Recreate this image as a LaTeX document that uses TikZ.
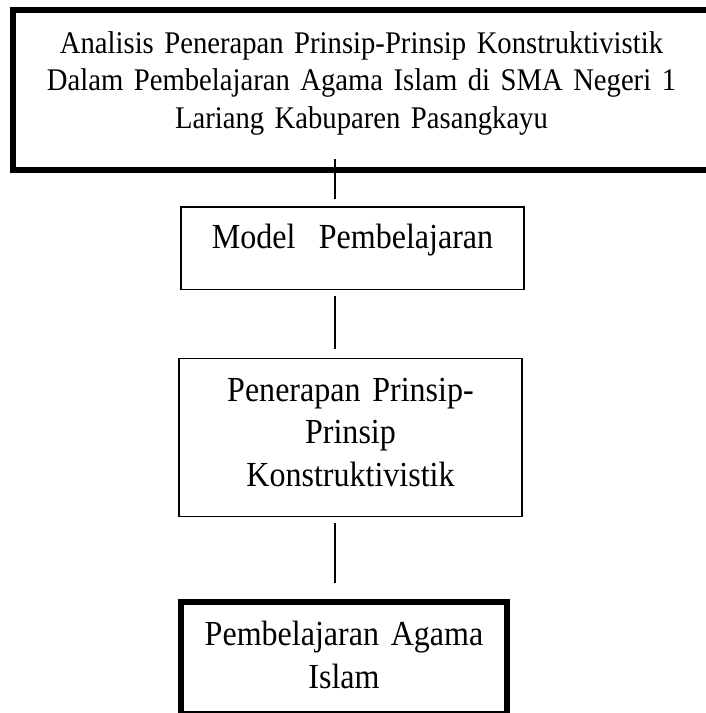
\documentclass[tikz,border=0pt]{standalone}
\usepackage{fontspec}
\setmainfont{Liberation Serif}[FakeStretch=0.91]
\begin{document}
\begin{tikzpicture}[x=1pt,y=-1pt,
  boxbase/.style={draw, rectangle, inner sep=0pt, outer sep=0pt, align=center, anchor=north west},
  thickbox/.style={boxbase, line width=6pt},
  thinbox/.style={boxbase, line width=1.1pt},
  conn/.style={line width=1.6pt}]
\useasboundingbox (0,0) rectangle (706,713);

\node[thickbox, text width=697pt, text height=43pt, text depth=117pt,
      font=\fontsize{31.5}{37.5}\selectfont] (top) at (13,10)
  {Analisis Penerapan Prinsip-Prinsip Konstruktivistik\\
   Dalam Pembelajaran Agama Islam di SMA Negeri 1\\
   Lariang Kabuparen Pasangkayu};

\node[thinbox, text width=343pt, text height=41pt, text depth=41.3pt,
      font=\fontsize{35.2}{42.5}\selectfont] (model) at (181,207)
  {Model\ \ Pembelajaran};

\node[thinbox, text width=343pt, text height=43pt, text depth=115.4pt,
      font=\fontsize{35.2}{42.5}\selectfont] (prinsip) at (179,358.3)
  {Penerapan Prinsip-\\ Prinsip\\ Konstruktivistik};

\node[thickbox, text width=326pt, text height=43pt, text depth=69pt,
      font=\fontsize{35.2}{43}\selectfont] (pai) at (181,602)
  {Pembelajaran Agama\\ Islam};

\coordinate (c1a) at (335,159);
\coordinate (c1b) at (335,199);
\coordinate (c2a) at (335,296);
\coordinate (c2b) at (335,349);
\coordinate (c3a) at (335,523);
\coordinate (c3b) at (335,583);

\draw[conn] (c1a) -- (c1b);
\draw[conn] (c2a) -- (c2b);
\draw[conn] (c3a) -- (c3b);
\end{tikzpicture}
\end{document}
